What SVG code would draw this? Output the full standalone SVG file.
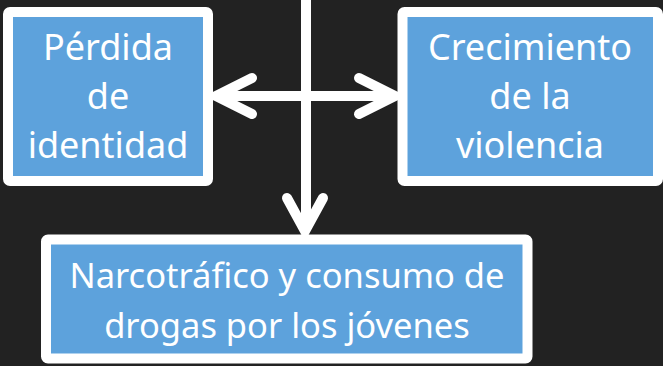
<svg xmlns="http://www.w3.org/2000/svg" width="663" height="366" viewBox="0 0 663 366">
<style>
.box{fill:#5DA2DC;stroke:#FFFFFF;stroke-width:10;}
.lbl{fill:#FFFFFF;font-family:"Noto Sans","Open Sans",sans-serif;font-size:36px;text-anchor:middle;}
.sm{font-size:34.5px;}
.ln{stroke:#FFFFFF;stroke-width:10;fill:none;}
.hd{stroke:#FFFFFF;stroke-width:10;fill:none;stroke-linecap:round;stroke-linejoin:miter;}
</style>
<rect width="663" height="366" fill="#222222"/>
<g id="node-perdida">
<rect class="box" x="8" y="12" width="200" height="169" rx="2"/>
<text class="lbl" x="108" y="60">Pérdida</text>
<text class="lbl" x="108" y="109">de</text>
<text class="lbl" x="108" y="158">identidad</text>
</g>
<g id="node-crecimiento">
<rect class="box" x="402.5" y="12" width="255.5" height="169" rx="2"/>
<text class="lbl" x="530" y="60">Crecimiento</text>
<text class="lbl" x="530" y="109">de la</text>
<text class="lbl" x="530" y="158">violencia</text>
</g>
<g id="node-narcotrafico">
<rect class="box" x="46" y="239.5" width="481.5" height="119" rx="2"/>
<text class="lbl sm" x="287" y="288">Narcotráfico y consumo de</text>
<text class="lbl sm" x="287" y="338">drogas por los jóvenes</text>
</g>
<g id="connectors">
<line class="ln" x1="306" y1="0" x2="306" y2="230"/>
<line class="ln" x1="216" y1="96" x2="395" y2="96"/>
<polyline class="hd" points="252,78 216,96 252,114"/>
<polyline class="hd" points="359,78 395,96 359,114"/>
<polyline class="hd" points="287,198 305,231 323,198"/>
</g>
</svg>
